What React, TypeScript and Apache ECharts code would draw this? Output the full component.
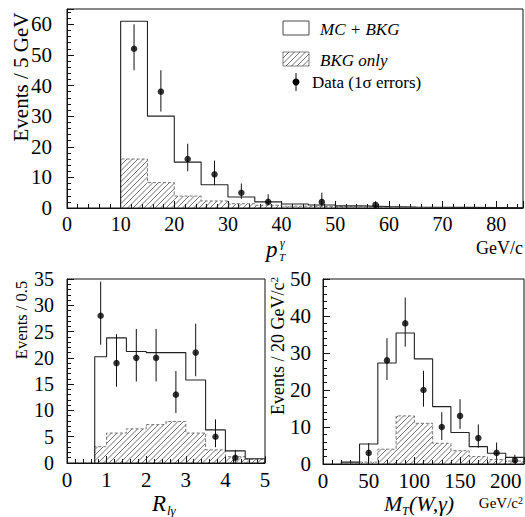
import React, { useEffect, useRef } from "react";
import * as echarts from "echarts";

// ---- Top panel: photon pT (5 GeV bins) ----
const ptEdges = [10, 15, 20, 25, 30, 35, 40, 45, 50, 55, 60, 65, 70, 75, 80, 85];
const ptMC = [61, 30, 15, 7.6, 3.6, 2, 1.3, 1, 0.7, 0.5, 0.35, 0.25, 0.2, 0.15, 0.1];
const ptBKG = [16, 8.3, 3.9, 2.3, 1.4, 0.9, 0.6, 0.45, 0.35, 0.25, 0.2, 0.15, 0.1, 0.1, 0.05];
const ptDataX = [12.5, 17.5, 22.5, 27.5, 32.5, 37.5, 47.5, 57.5];
const ptDataY = [52, 38, 16, 11, 5, 2, 2, 1];
const ptDataLo = [45, 31.5, 12, 7.5, 3, 1, 0.5, 0.1];
const ptDataHi = [60, 45, 21, 15.5, 8, 4.5, 5, 2.2];

// ---- Bottom-left: R_lγ (0.5 bins) ----
const rEdges = [0.7, 1.0, 1.5, 2.0, 2.5, 3.0, 3.5, 4.0, 4.5, 5.0];
const rMC = [20.2, 23.8, 21.2, 21, 21, 15.8, 6.3, 2.3, 0.8];
const rBKG = [3.1, 5.7, 6.5, 7.3, 7.9, 5.7, 2.5, 1.2, 0.7];
const rDataX = [0.85, 1.25, 1.75, 2.25, 2.75, 3.25, 3.75, 4.25];
const rDataY = [28, 19, 20, 20, 13, 21, 5, 1];
const rDataLo = [22.5, 14.5, 15.5, 15.5, 9.5, 16.5, 3, 0];
const rDataHi = [34.5, 24.5, 25.5, 25.5, 17.5, 26.5, 8.3, 2.5];

// ---- Bottom-right: M_T(W,γ) (20 GeV/c² bins) ----
const mEdges = [20, 40, 60, 80, 100, 120, 140, 160, 180, 200, 220];
const mMC = [0.5, 5.4, 27.3, 35.4, 28.4, 15.5, 8.5, 4.7, 2.9, 1.8];
const mBKG = [0.2, 0.5, 4.0, 13, 11, 5.6, 3.6, 2.0, 1.2, 0.8];
const mDataX = [50, 70, 90, 110, 130, 150, 170, 190, 210];
const mDataY = [3, 28, 38, 20, 10, 13, 7, 3, 1];
const mDataLo = [0.8, 22.7, 31.7, 15.5, 6.5, 9.5, 4.4, 1.2, 0.2];
const mDataHi = [5.6, 34, 45, 25.2, 14, 17.5, 10.7, 5.8, 2.5];

const SERIF = '"Liberation Serif", "Times New Roman", serif';
const INK = "#111";

function outline(edges: number[], vals: number[]) {
  const pts: number[][] = [[edges[0], 0]];
  vals.forEach((v, i) => {
    pts.push([edges[i], v]);
    pts.push([edges[i + 1], v]);
  });
  pts.push([edges[edges.length - 1], 0]);
  return pts;
}

function hatchSeries(edges: number[], vals: number[], idx: number) {
  return {
    type: "custom",
    xAxisIndex: idx,
    yAxisIndex: idx,
    clip: true,
    silent: true,
    z: 1,
    data: vals.map((v, i) => [edges[i], edges[i + 1], v]),
    renderItem: (_p: any, api: any) => {
      const p0 = api.coord([api.value(0), api.value(2)]);
      const p1 = api.coord([api.value(1), 0]);
      const left = p0[0], right = p1[0], top = p0[1], bottom = p1[1];
      const children: any[] = [];
      const s = 5.5;
      const cMin = left + top, cMax = right + bottom;
      for (let c = Math.ceil(cMin / s) * s; c <= cMax; c += s) {
        const yA = Math.max(top, c - right);
        const yB = Math.min(bottom, c - left);
        if (yB - yA < 0.5) continue;
        children.push({
          type: "line",
          shape: { x1: c - yA, y1: yA, x2: c - yB, y2: yB },
          style: { stroke: "#333", lineWidth: 0.7 },
        });
      }
      return { type: "group", children };
    },
  };
}

function errSeries(xs: number[], lo: number[], hi: number[], idx: number) {
  return {
    type: "custom",
    xAxisIndex: idx,
    yAxisIndex: idx,
    clip: true,
    silent: true,
    z: 4,
    data: xs.map((x, i) => [x, lo[i], hi[i]]),
    renderItem: (_p: any, api: any) => {
      const a = api.coord([api.value(0), api.value(1)]);
      const b = api.coord([api.value(0), api.value(2)]);
      return {
        type: "line",
        shape: { x1: a[0], y1: a[1], x2: b[0], y2: b[1] },
        style: { stroke: INK, lineWidth: 1 },
      };
    },
  };
}

function lineSeries(pts: number[][], idx: number, dashed: boolean) {
  return {
    type: "line",
    xAxisIndex: idx,
    yAxisIndex: idx,
    data: pts,
    showSymbol: false,
    silent: true,
    z: dashed ? 2 : 3,
    lineStyle: dashed
      ? { color: "#555", width: 0.8, type: [3, 2] }
      : { color: "#222", width: 1.1 },
  };
}

function scatterSeries(xs: number[], ys: number[], idx: number) {
  return {
    type: "scatter",
    xAxisIndex: idx,
    yAxisIndex: idx,
    data: xs.map((x, i) => [x, ys[i]]),
    symbol: "circle",
    symbolSize: 6.5,
    itemStyle: { color: "#000" },
    silent: true,
    z: 5,
  };
}

function axis(idx: number, min: number, max: number, interval: number, splits: number, showMax: boolean, margin: number, fontSize: number) {
  return {
    type: "value",
    gridIndex: idx,
    min,
    max,
    interval,
    axisLine: { show: true, lineStyle: { color: INK, width: 1 } },
    axisTick: { show: true, inside: true, length: 7, lineStyle: { color: INK } },
    minorTick: { show: true, splitNumber: splits, length: 4, lineStyle: { color: INK } },
    splitLine: { show: false },
    minorSplitLine: { show: false },
    axisLabel: {
      color: "#000",
      fontFamily: SERIF,
      fontSize,
      margin,
      showMaxLabel: showMax,
      showMinLabel: true,
      formatter: (v: number) => (Math.abs(v / interval - Math.round(v / interval)) < 1e-6 ? String(v) : ""),
    },
  };
}

function txt(x: number, y: number, text: string, size: number, opts: any = {}) {
  return {
    type: "text",
    x,
    y,
    rotation: opts.rotation || 0,
    silent: true,
    style: {
      text,
      fill: "#000",
      fontFamily: SERIF,
      fontSize: size,
      fontStyle: opts.italic ? "italic" : "normal",
      align: opts.align || "left",
      textAlign: opts.align || "left",
      verticalAlign: "middle",
      textVerticalAlign: "middle",
      rich: opts.rich,
    },
  };
}

function legendHatch(x: number, y: number, w: number, h: number) {
  const els: any[] = [
    { type: "rect", shape: { x, y, width: w, height: h }, style: { fill: "#fff", stroke: "#666", lineWidth: 0.8 } },
  ];
  const s = 5.5;
  for (let c = Math.ceil((x + y) / s) * s; c <= x + w + y + h; c += s) {
    const yA = Math.max(y, c - (x + w));
    const yB = Math.min(y + h, c - x);
    if (yB - yA < 0.5) continue;
    els.push({ type: "line", shape: { x1: c - yA, y1: yA, x2: c - yB, y2: yB }, style: { stroke: "#333", lineWidth: 0.7 } });
  }
  return { type: "group", children: els };
}

export default function App() {
  const ref = useRef<HTMLDivElement>(null);
  useEffect(() => {
    if (!ref.current) return;
    const chart = echarts.init(ref.current, undefined, { renderer: "svg" });
    const gridBase = { show: true, borderColor: INK, borderWidth: 1, backgroundColor: "transparent", containLabel: false };
    chart.setOption({
      animation: false,
      backgroundColor: "#fff",
      grid: [
        { ...gridBase, left: 67, top: 9, width: 456, height: 199 },
        { ...gridBase, left: 67, top: 279, width: 198, height: 184 },
        { ...gridBase, left: 323, top: 279, width: 201, height: 185 },
      ],
      xAxis: [
        axis(0, 0, 85, 10, 5, false, 6, 20),
        axis(1, 0, 5, 1, 5, true, 6, 21),
        axis(2, 0, 220, 50, 5, false, 6, 21),
      ],
      yAxis: [
        axis(0, 0, 65, 10, 5, false, 15, 21),
        axis(1, 0, 35, 5, 5, true, 13, 20),
        axis(2, 0, 50, 10, 5, true, 12, 21),
      ],
      series: [
        hatchSeries(ptEdges, ptBKG, 0),
        lineSeries(outline(ptEdges, ptBKG), 0, true),
        lineSeries(outline(ptEdges, ptMC), 0, false),
        errSeries(ptDataX, ptDataLo, ptDataHi, 0),
        scatterSeries(ptDataX, ptDataY, 0),

        hatchSeries(rEdges, rBKG, 1),
        lineSeries(outline(rEdges, rBKG), 1, true),
        lineSeries(outline(rEdges, rMC), 1, false),
        errSeries(rDataX, rDataLo, rDataHi, 1),
        scatterSeries(rDataX, rDataY, 1),

        hatchSeries(mEdges, mBKG, 2),
        lineSeries(outline(mEdges, mBKG), 2, true),
        lineSeries(outline(mEdges, mMC), 2, false),
        errSeries(mDataX, mDataLo, mDataHi, 2),
        scatterSeries(mDataX, mDataY, 2),
      ],
      graphic: [
        // axis titles
        txt(21, 77, "Events / 5 GeV", 21, { rotation: Math.PI / 2, align: "center" }),
        txt(266, 249, "p", 23, { italic: true }),
        txt(280, 243, "γ", 12, { italic: true }),
        txt(279, 257, "T", 11, { italic: true }),
        txt(523, 248, "GeV/c", 18, { align: "right" }),

        txt(21, 320, "Events / 0.5", 16.5, { rotation: Math.PI / 2, align: "center" }),
        txt(152, 503, "R", 23, { italic: true }),
        txt(167, 510, "lγ", 13, { italic: true }),

        txt(278, 346, "{a|Events / 20 GeV/c}{s|2}", 18, {
          rotation: Math.PI / 2,
          align: "center",
          rich: {
            a: { fontFamily: SERIF, fontSize: 18, fill: "#000" },
            s: { fontFamily: SERIF, fontSize: 11, fill: "#000", verticalAlign: "top", padding: [0, 0, 8, 0] },
          },
        }),
        txt(384, 503, "M", 22, { italic: true }),
        txt(402, 511, "T", 12, { italic: true }),
        txt(409, 503, "(W,γ)", 22, { italic: true }),
        txt(523, 503, "{a|GeV/c}{s|2}", 15, {
          align: "right",
          rich: {
            a: { fontFamily: SERIF, fontSize: 15, fill: "#000" },
            s: { fontFamily: SERIF, fontSize: 10, fill: "#000", padding: [0, 0, 6, 0] },
          },
        }),

        // legend
        { type: "rect", shape: { x: 283, y: 21, width: 26, height: 14 }, style: { fill: "#fff", stroke: "#333", lineWidth: 0.9 } },
        txt(320, 29, "MC + BKG", 17, { italic: true }),
        legendHatch(283, 52, 26, 14),
        txt(320, 60, "BKG only", 17, { italic: true }),
        { type: "line", shape: { x1: 296, y1: 73, x2: 296, y2: 91 }, style: { stroke: "#000", lineWidth: 1 } },
        { type: "circle", shape: { cx: 296, cy: 82, r: 3.5 }, style: { fill: "#000" } },
        txt(312, 82, "Data (1σ errors)", 17),
      ],
    });
    return () => chart.dispose();
  }, []);
  return <div ref={ref} style={{ position: "absolute", left: 0, top: 0, width: 525, height: 517 }} />;
}
